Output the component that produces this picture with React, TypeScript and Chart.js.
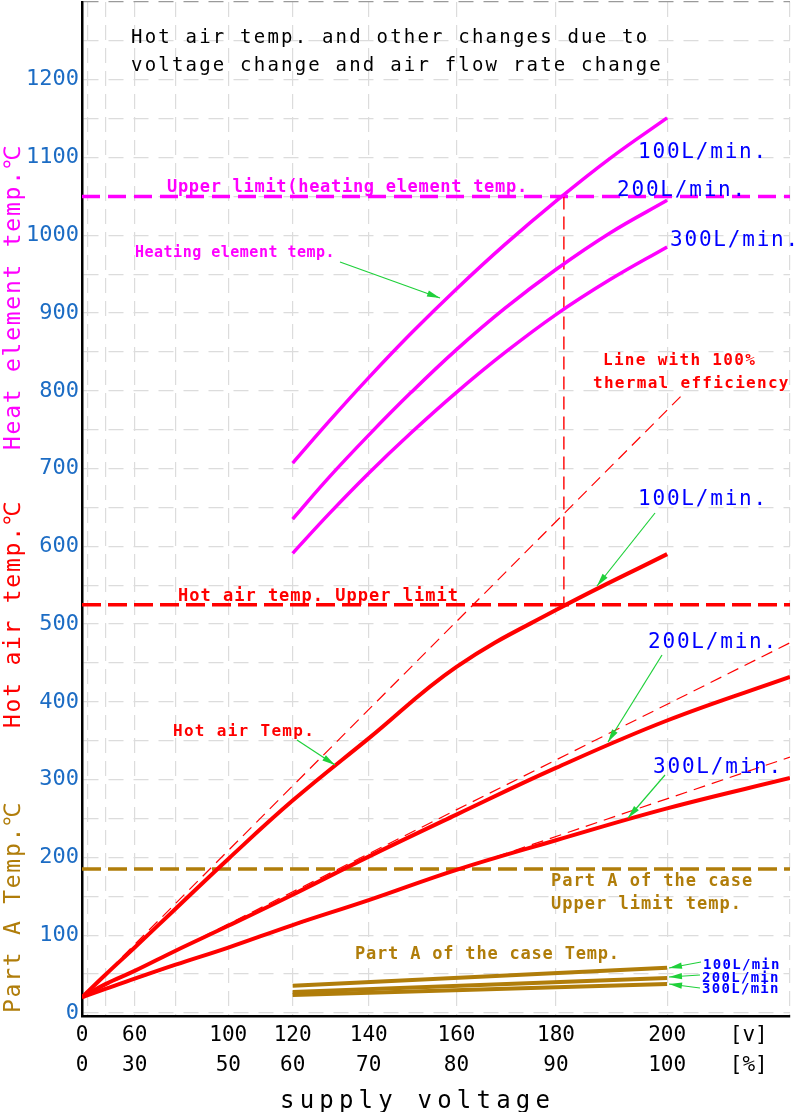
import React, { useEffect, useRef } from 'react';
import { Chart, LinearScale, registerables } from 'chart.js';

// ---------- custom x scale: position linear in V^2 (power) ----------
class SquareScale extends LinearScale {
  static id = 'square';
  static defaults = (LinearScale as any).defaults;
  getPixelForValue(value: number) {
    const a = this.min * this.min;
    const b = this.max * this.max;
    return this.getPixelForDecimal((value * value - a) / (b - a));
  }
  getValueForPixel(pixel: number) {
    const a = this.min * this.min;
    const b = this.max * this.max;
    const d = this.getDecimalForPixel(pixel);
    return Math.sqrt(Math.max(0, a + d * (b - a)));
  }
}
Chart.register(...registerables, SquareScale as any);

// ---------- data ----------
// Heating element temperature (°C) vs supply voltage (V)
const heaterVolts = [120, 130, 140, 150, 160, 170, 180, 190, 200];
const heater100 = [707, 761, 817, 874, 931, 988, 1044, 1099, 1151];
const heater200 = [635, 689, 743, 798, 853, 906, 956, 1003, 1045];
const heater300 = [591, 642, 694, 746, 798, 849, 898, 943, 985];

// Hot air temperature (°C)
const hotAir100Volts = [0, 40, 60, 80, 100, 120, 140, 160, 180, 200];
const hotAir100 = [20, 49, 84, 134, 198, 273, 353, 445, 518, 590];
const hotAirVolts = [0, 40, 60, 80, 100, 120, 140, 160, 180, 200, 220];
const hotAir200 = [20, 37, 54, 80, 112, 152, 201, 255, 315, 376, 432];
const hotAir300 = [20, 31, 44, 62, 84, 113, 145, 184, 222, 263, 302];

// Lines with 100% thermal efficiency (start / end)
const eff100Volts = [0, 203];
const eff100 = [20, 798];
const effVolts = [0, 220];
const eff200 = [20, 476];
const eff300 = [20, 329];

// Part A of the case temperature (°C)
const caseVolts = [120, 200];
const case100 = [35, 58];
const case200 = [27, 45];
const case300 = [23, 37];

// Upper limits
const limitVolts = [0, 220];
const heaterLimit = [1050, 1050];
const hotAirLimit = [525, 525];
const caseLimit = [185, 185];
const markerVolts = [181.5, 181.5];
const markerTemps = [1050, 525];

// Axis ticks
const xGridVolts = [0, 20, 40, 60, 80, 100, 120, 140, 160, 180, 200, 213.5, 220];
const labelVolts = [0, 60, 100, 120, 140, 160, 180, 200, 213.5];
const voltLabels = ['0', '60', '100', '120', '140', '160', '180', '200', '[v]'];
const pctLabels = ['0', '30', '50', '60', '70', '80', '90', '100', '[%]'];
const yGridValues = [0, 50, 100, 150, 200, 250, 300, 350, 400, 450, 500, 550, 600, 650, 700,
  750, 800, 850, 900, 950, 1000, 1050, 1100, 1150, 1200, 1250, 1300];
const yLabelValues = [0, 100, 200, 300, 400, 500, 600, 700, 800, 900, 1000, 1100, 1200];

// ---------- styles ----------
const FONT = '"DejaVu Sans Mono", monospace';
const MAGENTA = '#ff00ff';
const RED = '#ff0000';
const GOLD = '#b07d0a';
const BLUE = '#0000ff';
const TICK_BLUE = '#1c6cc4';
const GREEN = '#1fd03a';
const BLACK = '#000000';

const pts = (xs: number[], ys: number[]) => xs.map((x, i) => ({ x, y: ys[i] }));

type Note = { t: string; x: number; y: number; size: number; sp: number; c: string; w?: string };
const NOTES: Note[] = [
  { t: 'Hot air temp. and other changes due to', x: 131, y: 43, size: 19, sp: 2.2, c: BLACK },
  { t: 'voltage change and air flow rate change', x: 131, y: 71, size: 19, sp: 2.2, c: BLACK },
  { t: 'Upper limit(heating element temp.', x: 167, y: 192, size: 17, sp: 0.7, c: MAGENTA, w: 'bold' },
  { t: 'Heating element temp.', x: 135, y: 257, size: 15, sp: 0.5, c: MAGENTA, w: 'bold' },
  { t: '100L/min.', x: 638, y: 158, size: 21, sp: 1.8, c: BLUE },
  { t: '200L/min.', x: 617, y: 196, size: 21, sp: 1.8, c: BLUE },
  { t: '300L/min.', x: 670, y: 246, size: 21, sp: 1.8, c: BLUE },
  { t: 'Line with 100%', x: 603, y: 365, size: 16, sp: 1.3, c: RED, w: 'bold' },
  { t: 'thermal efficiency', x: 593, y: 388, size: 16, sp: 1.3, c: RED, w: 'bold' },
  { t: '100L/min.', x: 638, y: 505, size: 21, sp: 1.8, c: BLUE },
  { t: 'Hot air temp. Upper limit', x: 178, y: 601, size: 17, sp: 1.0, c: RED, w: 'bold' },
  { t: '200L/min.', x: 648, y: 648, size: 21, sp: 1.8, c: BLUE },
  { t: '300L/min.', x: 653, y: 773, size: 21, sp: 1.8, c: BLUE },
  { t: 'Hot air Temp.', x: 173, y: 736, size: 16, sp: 1.3, c: RED, w: 'bold' },
  { t: 'Part A of the case', x: 551, y: 886, size: 17, sp: 1.0, c: GOLD, w: 'bold' },
  { t: 'Upper limit temp.', x: 551, y: 909, size: 17, sp: 1.0, c: GOLD, w: 'bold' },
  { t: 'Part A of the case Temp.', x: 355, y: 959, size: 17, sp: 0.8, c: GOLD, w: 'bold' },
  { t: '100L/min', x: 703, y: 969, size: 14, sp: 1.3, c: BLUE, w: 'bold' },
  { t: '200L/min', x: 702, y: 982, size: 14, sp: 1.3, c: BLUE, w: 'bold' },
  { t: '300L/min', x: 702, y: 993, size: 14, sp: 1.3, c: BLUE, w: 'bold' },
  { t: 'supply voltage', x: 280, y: 1108, size: 24, sp: 5.2, c: BLACK },
];

const ARROWS: number[][] = [
  [340, 262, 440, 298],
  [655, 513, 597, 586],
  [662, 655, 608, 742],
  [665, 775, 628, 818],
  [297, 740, 335, 765],
  [701, 962, 669, 968],
  [700, 975, 669, 977],
  [700, 988, 669, 984],
];

const Y_TITLES = [
  { t: 'Part A Temp.℃', y: 1013, c: GOLD },
  { t: 'Hot air temp.℃', y: 728, c: RED },
  { t: 'Heat element temp.℃', y: 450, c: MAGENTA },
];

function drawArrow(ctx: CanvasRenderingContext2D, a: number[]) {
  const [x1, y1, x2, y2] = a;
  const ang = Math.atan2(y2 - y1, x2 - x1);
  const L = 13, W = 3.2;
  ctx.save();
  ctx.strokeStyle = GREEN;
  ctx.fillStyle = GREEN;
  ctx.lineWidth = 1.2;
  ctx.beginPath();
  ctx.moveTo(x1, y1);
  ctx.lineTo(x2, y2);
  ctx.stroke();
  const bx = x2 - L * Math.cos(ang), by = y2 - L * Math.sin(ang);
  ctx.beginPath();
  ctx.moveTo(x2, y2);
  ctx.lineTo(bx - W * Math.sin(ang), by + W * Math.cos(ang));
  ctx.lineTo(bx + W * Math.sin(ang), by - W * Math.cos(ang));
  ctx.closePath();
  ctx.fill();
  ctx.restore();
}

const annotations = {
  id: 'annotations',
  afterDatasetsDraw(chart: any) {
    const ctx: CanvasRenderingContext2D = chart.ctx;
    for (const n of NOTES) {
      ctx.save();
      ctx.font = `${n.w || 'normal'} ${n.size}px ${FONT}`;
      (ctx as any).letterSpacing = `${n.sp}px`;
      ctx.fillStyle = n.c;
      ctx.textAlign = 'left';
      ctx.textBaseline = 'alphabetic';
      ctx.fillText(n.t, n.x, n.y);
      ctx.restore();
    }
    for (const a of ARROWS) drawArrow(ctx, a);
    for (const t of Y_TITLES) {
      ctx.save();
      ctx.translate(19.5, t.y);
      ctx.rotate(-Math.PI / 2);
      ctx.font = `normal 23px ${FONT}`;
      (ctx as any).letterSpacing = '1.75px';
      ctx.fillStyle = t.c;
      ctx.textAlign = 'left';
      ctx.textBaseline = 'alphabetic';
      ctx.fillText(t.t, 0, 0);
      ctx.restore();
    }
  },
};

const base = { pointRadius: 0, pointHoverRadius: 0, fill: false };
const curve = { ...base, tension: 0.4 };
const straight = { ...base, tension: 0 };

export default function App() {
  const ref = useRef<HTMLCanvasElement>(null);
  useEffect(() => {
    const chart = new Chart(ref.current as HTMLCanvasElement, {
      type: 'line',
      data: {
        datasets: [
          { ...curve, data: pts(heaterVolts, heater100), borderColor: MAGENTA, borderWidth: 3.5 },
          { ...curve, data: pts(heaterVolts, heater200), borderColor: MAGENTA, borderWidth: 3.5 },
          { ...curve, data: pts(heaterVolts, heater300), borderColor: MAGENTA, borderWidth: 3.5 },
          { ...curve, data: pts(hotAir100Volts, hotAir100), borderColor: RED, borderWidth: 4 },
          { ...curve, data: pts(hotAirVolts, hotAir200), borderColor: RED, borderWidth: 4 },
          { ...curve, data: pts(hotAirVolts, hotAir300), borderColor: RED, borderWidth: 4 },
          { ...straight, data: pts(caseVolts, case100), borderColor: GOLD, borderWidth: 4 },
          { ...straight, data: pts(caseVolts, case200), borderColor: GOLD, borderWidth: 4 },
          { ...straight, data: pts(caseVolts, case300), borderColor: GOLD, borderWidth: 4 },
          { ...straight, data: pts(eff100Volts, eff100), borderColor: RED, borderWidth: 1.2, borderDash: [12, 7] },
          { ...straight, data: pts(effVolts, eff200), borderColor: RED, borderWidth: 1.2, borderDash: [12, 7] },
          { ...straight, data: pts(effVolts, eff300), borderColor: RED, borderWidth: 1.2, borderDash: [12, 7] },
          { ...straight, data: pts(markerVolts, markerTemps), borderColor: RED, borderWidth: 1.4, borderDash: [13, 7] },
          { ...straight, data: pts(limitVolts, heaterLimit), borderColor: MAGENTA, borderWidth: 3.5, borderDash: [18, 8] },
          { ...straight, data: pts(limitVolts, hotAirLimit), borderColor: RED, borderWidth: 3.5, borderDash: [19, 7] },
          { ...straight, data: pts(limitVolts, caseLimit), borderColor: GOLD, borderWidth: 3.5, borderDash: [19, 7] },
        ],
      },
      options: {
        responsive: false,
        maintainAspectRatio: false,
        devicePixelRatio: 1,
        animation: false,
        events: [],
        layout: { padding: { left: 0, right: 10, top: 2, bottom: 0 } },
        plugins: { legend: { display: false }, tooltip: { enabled: false }, title: { display: false } },
        scales: {
          x: {
            type: 'square' as any,
            min: 0,
            max: 220,
            afterBuildTicks: (s: any) => { s.ticks = xGridVolts.map((v) => ({ value: v })); },
            afterFit: (s: any) => { s.height = 96; s.paddingLeft = 0; s.paddingRight = 0; },
            ticks: {
              autoSkip: false,
              maxRotation: 0,
              minRotation: 0,
              padding: 5,
              color: BLACK,
              font: { family: FONT, size: 21, lineHeight: 1.43 },
              callback: (value: any) => {
                const i = labelVolts.indexOf(Number(value));
                return i >= 0 ? [voltLabels[i], pctLabels[i]] : '';
              },
            },
            grid: {
              drawTicks: false,
              lineWidth: 1.2,
              color: (c: any) => (c.tick && c.tick.value === 213.5 ? 'rgba(0,0,0,0)' : '#dcdcdc'),
            },
            border: { display: true, color: BLACK, width: 2.5, dash: [15, 8] },
          } as any,
          y: {
            type: 'linear',
            min: -4,
            max: 1300,
            afterBuildTicks: (s: any) => { s.ticks = yGridValues.map((v) => ({ value: v })); },
            afterFit: (s: any) => { s.width = 82; s.paddingTop = 0; s.paddingBottom = 0; },
            ticks: {
              autoSkip: false,
              padding: 3,
              color: TICK_BLUE,
              font: { family: FONT, size: 22 },
              callback: (value: any) => (yLabelValues.indexOf(Number(value)) >= 0 ? String(value) : ''),
            },
            grid: {
              drawTicks: false,
              lineWidth: 1.2,
              color: (c: any) => (c.tick && c.tick.value === 1300 ? '#9a9a9a' : '#dcdcdc'),
            },
            border: { display: true, color: BLACK, width: 2.5, dash: [15, 10] },
          } as any,
        },
      },
      plugins: [annotations],
    });
    return () => chart.destroy();
  }, []);
  return (
    <div style={{ position: 'absolute', left: 0, top: 0, width: 800, height: 1112, background: '#fff' }}>
      <canvas ref={ref} width={800} height={1112} style={{ display: 'block', width: 800, height: 1112 }} />
    </div>
  );
}
